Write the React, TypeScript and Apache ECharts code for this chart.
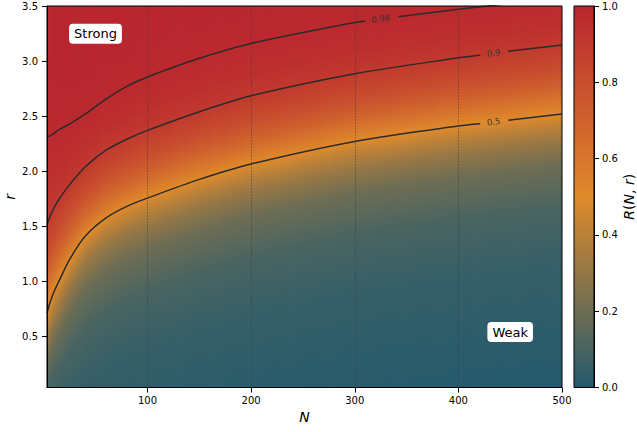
import React, { useEffect, useRef } from 'react';
import * as echarts from 'echarts';

const N_COLS = [3, 6, 10, 15, 25, 40, 60, 80, 100, 150, 200, 300, 400, 500];

// r at which R(N, r) reaches each level (read / estimated from the picture)
const R_000 = [-1.44, -1.42, -1.4, -1.36, -1.21, -1.08, -0.945, -0.86, -0.8, -0.625, -0.485, -0.28, -0.14, -0.03];
const R_005 = [-0.24, -0.22, -0.2, -0.16, -0.03, 0.11, 0.235, 0.33, 0.405, 0.575, 0.715, 0.92, 1.06, 1.17];
const R_010 = [0.06, 0.11, 0.17, 0.23, 0.38, 0.56, 0.715, 0.82, 0.895, 1.065, 1.205, 1.41, 1.55, 1.66];
const R_020 = [0.29, 0.37, 0.46, 0.55, 0.73, 0.94, 1.105, 1.21, 1.295, 1.465, 1.605, 1.81, 1.95, 2.06];
const R_030 = [0.45, 0.54, 0.64, 0.74, 0.93, 1.15, 1.315, 1.42, 1.495, 1.665, 1.805, 2.01, 2.15, 2.26];
const R_040 = [0.58, 0.68, 0.78, 0.88, 1.07, 1.29, 1.455, 1.56, 1.635, 1.805, 1.945, 2.15, 2.29, 2.4];
const R_050 = [0.71, 0.81, 0.91, 1.01, 1.2, 1.41, 1.575, 1.68, 1.755, 1.925, 2.065, 2.27, 2.41, 2.52];
const R_060 = [0.86, 0.96, 1.05, 1.15, 1.32, 1.52, 1.685, 1.79, 1.87, 2.04, 2.175, 2.385, 2.525, 2.635];
const R_070 = [1.02, 1.115, 1.2, 1.295, 1.455, 1.65, 1.81, 1.915, 1.995, 2.165, 2.3, 2.505, 2.65, 2.76];
const R_080 = [1.22, 1.305, 1.39, 1.48, 1.625, 1.805, 1.96, 2.065, 2.145, 2.315, 2.455, 2.66, 2.8, 2.915];
const R_090 = [1.515, 1.59, 1.67, 1.75, 1.88, 2.04, 2.19, 2.29, 2.37, 2.54, 2.685, 2.885, 3.03, 3.145];
const R_095 = [1.865, 1.91, 1.965, 2.025, 2.12, 2.25, 2.395, 2.5, 2.585, 2.75, 2.89, 3.09, 3.225, 3.335];
const R_098 = [2.31, 2.32, 2.345, 2.38, 2.43, 2.52, 2.655, 2.77, 2.855, 3.025, 3.16, 3.35, 3.47, 3.575];
const R_0995 = [2.93, 2.92, 2.91, 2.9, 2.9, 2.93, 3.04, 3.17, 3.26, 3.42, 3.54, 3.74, 3.83, 3.93];
const R_100 = [4.0, 4.0, 4.0, 4.0, 4.0, 4.0, 4.1, 4.2, 4.3, 4.5, 4.6, 4.8, 4.9, 5.0];

const LEVELS = [0, 0.05, 0.1, 0.2, 0.3, 0.4, 0.5, 0.6, 0.7, 0.8, 0.9, 0.95, 0.98, 0.995, 1.0];
const LEVEL_R = [R_000, R_005, R_010, R_020, R_030, R_040, R_050, R_060, R_070, R_080, R_090, R_095, R_098, R_0995, R_100];

// contour labels and the ends of the line on either side of each label
const LABEL_TEXT = ['0.98', '0.9', '0.5'];
const LABEL_N = [325, 434, 434];
const LABEL_R = [3.387, 3.074, 2.449];
const LABEL_ROT = [7.6, 6.8, 6.5];
const GAP_LEFT_N = [310, 421, 421];
const GAP_LEFT_R = [3.362, 3.056, 2.43];
const GAP_RIGHT_N = [342, 448, 448];
const GAP_RIGHT_R = [3.403, 3.089, 2.463];

// annotations
const NOTE_TEXT = ['Strong', 'Weak'];
const NOTE_N = [49.8, 450];
const NOTE_R = [3.249, 0.538];

const X_TICKS = [100, 200, 300, 400, 500];
const Y_TICKS = [0.5, 1.0, 1.5, 2.0, 2.5, 3.0, 3.5];
const CB_TICKS = [0, 0.2, 0.4, 0.6, 0.8, 1.0];

const CMAP: [number, string][] = [
  [0, '#235a6e'],
  [0.5, '#df8a2b'],
  [1, '#b9252f'],
];

const FONT = 'DejaVu Sans';
const LINE = '#2b2b2b';

function hex(h: string) {
  return [parseInt(h.slice(1, 3), 16), parseInt(h.slice(3, 5), 16), parseInt(h.slice(5, 7), 16)];
}
function cmap(v: number) {
  for (let j = 0; j < CMAP.length - 1; j++) {
    const [a, ca] = CMAP[j];
    const [b, cb] = CMAP[j + 1];
    if (v <= b || j === CMAP.length - 2) {
      const t = Math.max(0, Math.min(1, (v - a) / (b - a)));
      const A = hex(ca), B = hex(cb);
      const c = A.map((x, q) => Math.round(x + (B[q] - x) * t));
      return `rgb(${c[0]},${c[1]},${c[2]})`;
    }
  }
  return CMAP[CMAP.length - 1][1];
}

function buildOption() {
  const cells: number[][] = [];
  for (let i = 0; i < N_COLS.length - 1; i++) cells.push([i, 0]);

  const renderItem = (_params: any, api: any) => {
    const i = api.value(0) as number;
    const xa = api.coord([N_COLS[i], 1])[0];
    const xb = api.coord([N_COLS[i + 1], 1])[0];
    const w = xb - xa;
    const n = Math.max(1, Math.ceil(w / 1.5));
    const children: any[] = [];
    for (let s = 0; s < n; s++) {
      const tm = (s + 0.5) / n;
      const ys = LEVEL_R.map((arr) => api.coord([N_COLS[i], arr[i] + (arr[i + 1] - arr[i]) * tm])[1]);
      const yB = ys[0];
      const yT = ys[ys.length - 1];
      const span = yB - yT;
      const stops = ys.map((y, k) => ({ offset: Math.max(0, Math.min(1, (yB - y) / span)), color: cmap(LEVELS[k]) }));
      children.push({
        type: 'rect',
        shape: { x: xa + (w * s) / n, y: yT, width: w / n + 0.8, height: span },
        style: { fill: new echarts.graphic.LinearGradient(0, yB, 0, yT, stops, true) },
      });
    }
    return { type: 'group', children };
  };

  const contourArrays = [R_098, R_090, R_050];
  const contourSeries: any[] = [];
  contourArrays.forEach((arr, c) => {
    const left = N_COLS.map((n, i) => [n, arr[i]]).filter((p) => p[0] < GAP_LEFT_N[c]);
    left.push([GAP_LEFT_N[c], GAP_LEFT_R[c]]);
    const right = [[GAP_RIGHT_N[c], GAP_RIGHT_R[c]]].concat(
      N_COLS.map((n, i) => [n, arr[i]]).filter((p) => p[0] > GAP_RIGHT_N[c])
    );
    [left, right].forEach((d) =>
      contourSeries.push({
        type: 'line',
        data: d,
        smooth: 0.3,
        symbol: 'none',
        lineStyle: { width: 1.5, color: LINE },
        itemStyle: { color: LINE },
        z: 4,
        silent: true,
        clip: true,
      })
    );
  });

  const axisText = { fontFamily: FONT, fontSize: 10, color: '#000' };
  const TOP = 6;
  const H = 381.5;

  return {
    animation: false,
    backgroundColor: '#fff',
    grid: [
      { left: 47, top: TOP, width: 515, height: H, show: true, borderColor: '#000', borderWidth: 1, z: 6, outerBoundsMode: 'none', containLabel: false },
      { left: 574, top: TOP, width: 20, height: H, show: true, borderColor: '#000', borderWidth: 1, z: 6, outerBoundsMode: 'none', containLabel: false },
    ],
    xAxis: [
      {
        type: 'value', gridIndex: 0, min: 3, max: 500, z: 6,
        axisLine: { show: true, lineStyle: { color: '#000', width: 1 } },
        axisTick: { show: true, length: 5, customValues: X_TICKS, lineStyle: { color: '#000' } },
        axisLabel: { ...axisText, margin: 8, customValues: X_TICKS, formatter: (v: number) => String(v) },
        splitLine: { show: false },
        name: 'N', nameLocation: 'middle', nameGap: 22,
        nameTextStyle: { fontFamily: FONT, fontSize: 14, fontStyle: 'italic', color: '#000' },
      },
      { type: 'category', gridIndex: 1, data: ['c'], show: false },
    ],
    yAxis: [
      {
        type: 'value', gridIndex: 0, min: 0.035, max: 3.5, z: 6,
        axisLine: { show: true, lineStyle: { color: '#000', width: 1 } },
        axisTick: { show: true, length: 5, customValues: Y_TICKS, lineStyle: { color: '#000' } },
        axisLabel: { ...axisText, margin: 9, customValues: Y_TICKS, formatter: (v: number) => v.toFixed(1) },
        splitLine: { show: false },
        name: 'r', nameLocation: 'middle', nameGap: 30, nameMoveOverlap: false,
        nameTextStyle: { fontFamily: FONT, fontSize: 14, fontStyle: 'italic', color: '#000' },
      },
      {
        type: 'value', gridIndex: 1, min: 0, max: 1, position: 'right', z: 6,
        axisLine: { show: true, lineStyle: { color: '#000', width: 1 } },
        axisTick: { show: true, length: 5, customValues: CB_TICKS, lineStyle: { color: '#000' } },
        axisLabel: { ...axisText, margin: 8, customValues: CB_TICKS, formatter: (v: number) => v.toFixed(1) },
        splitLine: { show: false },
        name: '{i|R}({i|N}, {i|r})', nameLocation: 'middle', nameGap: 27,
        nameTextStyle: {
          fontFamily: FONT, fontSize: 14, color: '#000',
          rich: { i: { fontFamily: FONT, fontSize: 14, fontStyle: 'italic', color: '#000' } },
        },
      },
    ],
    series: [
      {
        type: 'custom',
        xAxisIndex: 0, yAxisIndex: 0,
        data: cells,
        renderItem,
        clip: true,
        silent: true,
        z: 2,
      },
      ...contourSeries,
      {
        type: 'scatter',
        xAxisIndex: 0, yAxisIndex: 0,
        symbolSize: 1,
        itemStyle: { color: 'rgba(0,0,0,0)', opacity: 1 },
        silent: true,
        z: 5,
        data: LABEL_TEXT.map((t, c) => ({
          value: [LABEL_N[c], LABEL_R[c]],
          label: { show: true, position: 'inside', formatter: t, rotate: LABEL_ROT[c], fontFamily: FONT, fontSize: 8.5, color: '#333', opacity: 1 },
        })),
        markLine: {
          silent: true,
          symbol: 'none',
          label: { show: false },
          lineStyle: { color: '#3a3a3a', type: [1, 2], width: 1, opacity: 0.9 },
          data: X_TICKS.slice(0, 4).map((v) => ({ xAxis: v })),
        },
      },
      {
        type: 'scatter',
        xAxisIndex: 0, yAxisIndex: 0,
        symbolSize: 1,
        itemStyle: { color: 'rgba(0,0,0,0)', opacity: 1 },
        silent: true,
        z: 7,
        data: NOTE_TEXT.map((t, c) => ({
          value: [NOTE_N[c], NOTE_R[c]],
          label: {
            show: true, position: 'inside', formatter: t, fontFamily: FONT, fontSize: 13, color: '#000', opacity: 1,
            backgroundColor: '#fff', borderRadius: 4, padding: [4, 5, 3, 5],
          },
        })),
      },
      {
        type: 'bar',
        xAxisIndex: 1, yAxisIndex: 1,
        data: [1],
        barWidth: '100%',
        silent: true,
        itemStyle: {
          color: new echarts.graphic.LinearGradient(0, 1, 0, 0, CMAP.map(([o, c]) => ({ offset: o, color: c }))),
        },
      },
    ],
  };
}

export default function App() {
  const ref = useRef<HTMLDivElement>(null);
  useEffect(() => {
    const chart = echarts.init(ref.current!, null, { renderer: 'svg' });
    chart.setOption(buildOption() as any);
    return () => chart.dispose();
  }, []);
  return <div ref={ref} style={{ position: 'fixed', left: 0, top: 0, width: 637, height: 432 }} />;
}
